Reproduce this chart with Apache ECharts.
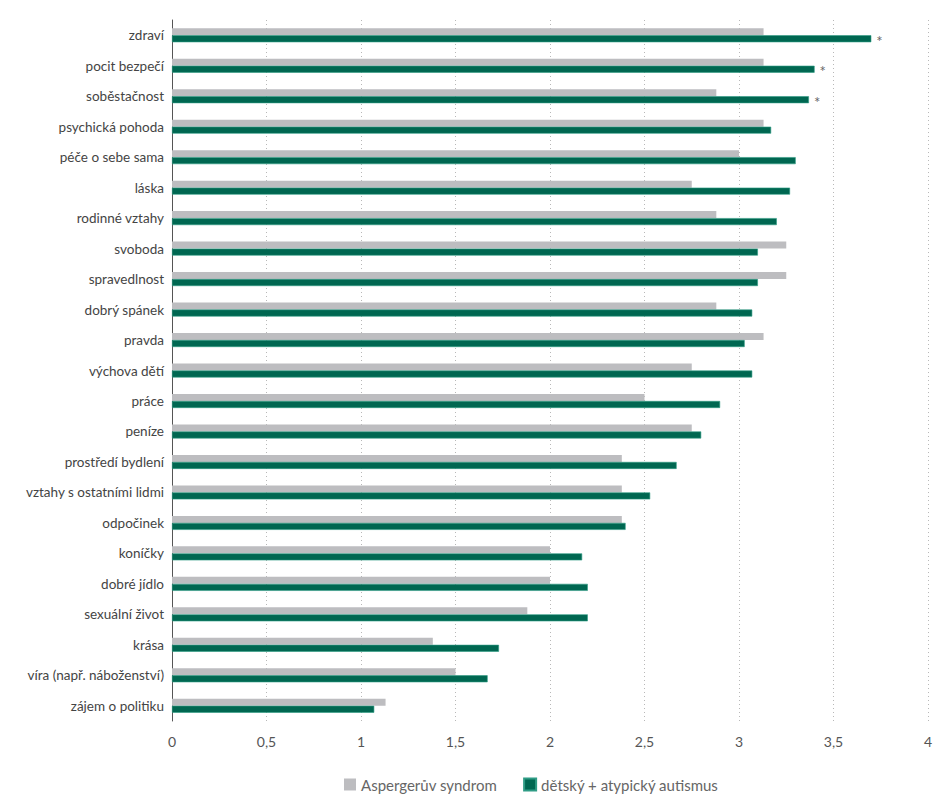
<!DOCTYPE html>
<html>
<head>
<meta charset="utf-8">
<script src="https://cdn.jsdelivr.net/npm/echarts@6/dist/echarts.min.js"></script>
<style>
  html, body { margin: 0; padding: 0; background: #fff; }
  #chart { width: 952px; height: 800px; }
</style>
</head>
<body>
<div id="chart"></div>
<script>
var categories = [
  'zdraví', 'pocit bezpečí', 'soběstačnost', 'psychická pohoda', 'péče o sebe sama',
  'láska', 'rodinné vztahy', 'svoboda', 'spravedlnost', 'dobrý spánek', 'pravda',
  'výchova dětí', 'práce', 'peníze', 'prostředí bydlení', 'vztahy s ostatními lidmi',
  'odpočinek', 'koníčky', 'dobré jídlo', 'sexuální život', 'krása',
  'víra (např. náboženství)', 'zájem o politiku'
];
var asperger = [3.13, 3.13, 2.88, 3.13, 3.00, 2.75, 2.88, 3.25, 3.25, 2.88, 3.13,
  2.75, 2.50, 2.75, 2.38, 2.38, 2.38, 2.00, 2.00, 1.88, 1.38, 1.50, 1.13];
var autismus = [3.70, 3.40, 3.37, 3.17, 3.30, 3.27, 3.20, 3.10, 3.10, 3.07, 3.03,
  3.07, 2.90, 2.80, 2.67, 2.53, 2.40, 2.17, 2.20, 2.20, 1.73, 1.67, 1.07];
var signif = ['*', '*', '*', '', '', '', '', '', '', '', '', '', '', '', '', '', '', '', '', '', '', '', ''];

var font = 'Lato, "Noto Sans", sans-serif';
var gray = '#bdbdc0';
var green = '#006751';

var chart = echarts.init(document.getElementById('chart'), null, { renderer: 'svg' });
chart.setOption({
  animation: false,
  textStyle: { fontFamily: font },
  grid: { left: 172, right: 24, top: 20, bottom: 79, containLabel: false },
  legend: {
    bottom: 3,
    left: 339,
    itemWidth: 12,
    itemHeight: 12,
    itemGap: 26,
    icon: 'rect',
    textStyle: { color: '#666', fontSize: 15, fontFamily: font },
    data: ['Aspergerův syndrom', 'dětský + atypický autismus']
  },
  xAxis: {
    type: 'value',
    min: 0,
    max: 4,
    interval: 0.5,
    axisLine: { show: false },
    axisTick: { show: false },
    axisLabel: {
      color: '#555',
      fontSize: 14,
      margin: 13,
      formatter: function(v) { return String(v).replace('.', ','); }
    },
    splitLine: { lineStyle: { color: '#b8b8b8', type: [1, 3], width: 1 } }
  },
  yAxis: {
    type: 'category',
    data: categories,
    inverse: true,
    axisLine: { show: true, lineStyle: { color: '#555', width: 1 } },
    axisTick: { show: false },
    axisLabel: { color: '#444', fontSize: 13.5, margin: 8 },
    splitLine: { show: false }
  },
  series: [
    {
      name: 'Aspergerův syndrom',
      type: 'bar',
      data: asperger,
      barWidth: 7,
      barGap: '0%',
      itemStyle: { color: gray }
    },
    {
      name: 'dětský + atypický autismus',
      type: 'bar',
      data: autismus,
      barWidth: 7,
      barGap: '0%',
      itemStyle: { color: green, borderColor: '#2f9c85', borderWidth: 0.6 },
      label: {
        show: true,
        position: 'right',
        distance: 5,
        color: '#666',
        fontSize: 15,
        offset: [0, 2],
        formatter: function(p) { return signif[p.dataIndex]; }
      }
    }
  ]
});
window.addEventListener('resize', function() { chart.resize(); });
</script>
</body>
</html>
